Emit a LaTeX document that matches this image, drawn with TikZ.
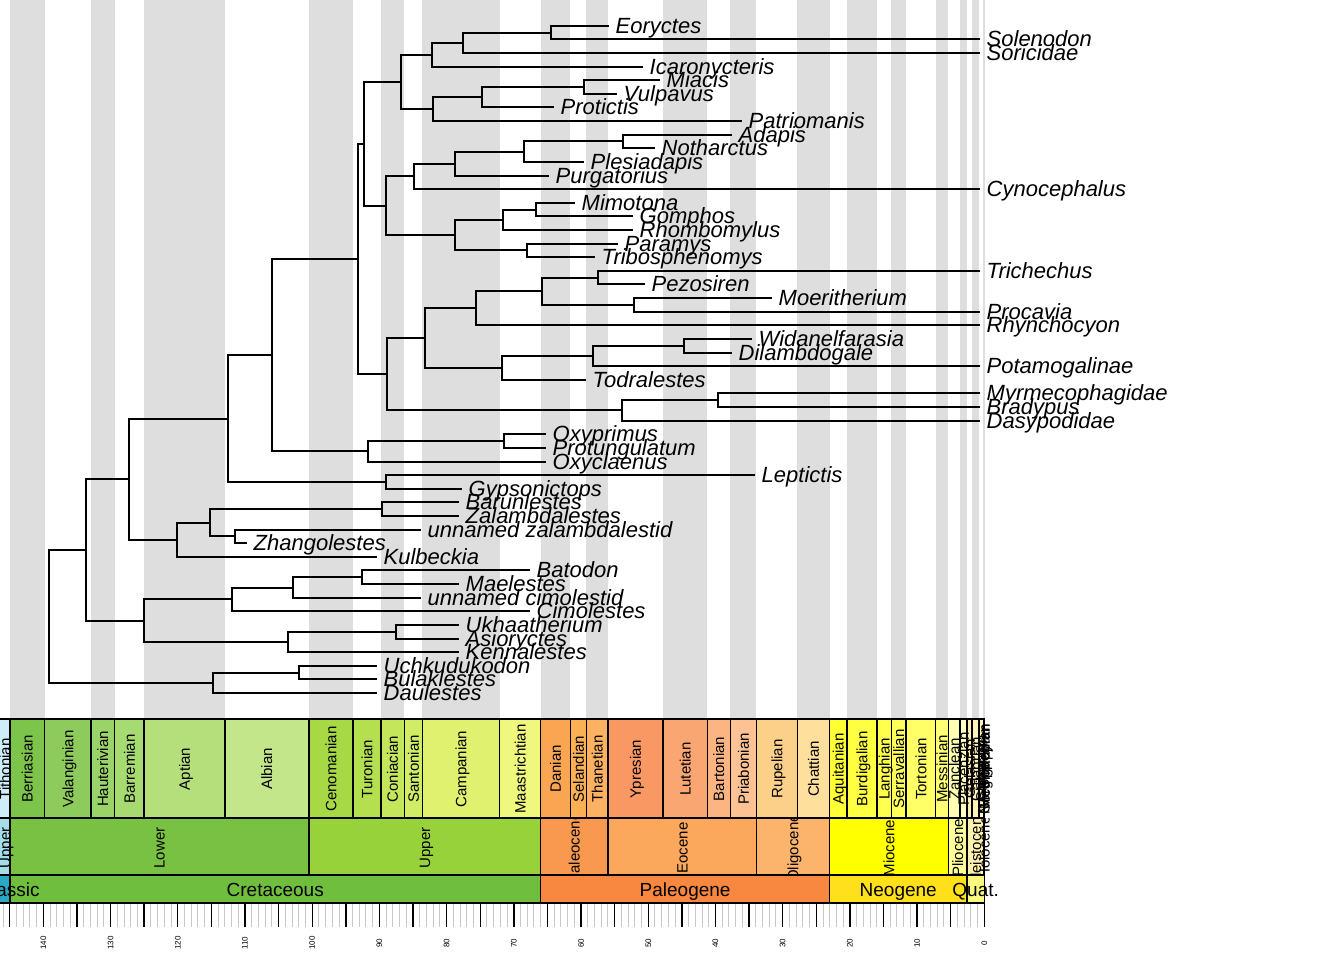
\documentclass[tikz,border=0pt]{standalone}
\usepackage{fontspec}
\setmainfont{Liberation Sans}
\definecolor{bandgray}{HTML}{DEDEDE}
\definecolor{minorgray}{HTML}{C8C8C8}
\begin{document}
\begin{tikzpicture}[x=1pt,y=-1pt,
  tree/.style={line width=1.8pt, black},
  tiplab/.style={anchor=base west, inner sep=0pt, font=\fontsize{22}{22}\selectfont\itshape},
  stagelab/.style={rotate=90, anchor=base, inner sep=0pt, font=\fontsize{15}{15}\selectfont},
  perlab/.style={anchor=base, inner sep=0pt, font=\fontsize{19}{19}\selectfont},
  ticklab/.style={rotate=90, anchor=center, inner sep=0pt, font=\fontsize{8}{8}\selectfont},
  tsbox/.style={draw=black, line width=1.5pt},
  minortick/.style={draw=minorgray, line width=1pt},
  majortick/.style={draw=black, line width=1.4pt}]
\useasboundingbox (0,0) rectangle (1344,960);
\clip (0,0) rectangle (1344,960);
\fill[white] (0,0) rectangle (1344,960);

% background bands
\foreach \a/\b in {145/139.8, 132.9/129.4, 125/113, 100.5/93.9, 89.8/86.3, 83.6/72.1, 66/61.6, 59.2/56, 47.8/41.2, 37.8/33.9, 27.82/23.03, 20.44/15.97, 13.82/11.63, 7.246/5.333, 3.6/2.58, 1.8/0.774, 0.129/0.0117, 0.0082/0.0042}
  \fill[bandgray] ({984.3-6.721*\a},0) rectangle ({984.3-6.721*\b},719);

% stages
\def\stagelist{152.1/145.0/CDEEF7/Tithonian, 145.0/139.8/7DC44A/Berriasian, 139.8/132.9/8CCB5C/Valanginian, 132.9/129.4/9AD368/Hauterivian, 129.4/125.0/A8DA72/Barremian, 125.0/113.0/B4DF7A/Aptian, 113.0/100.5/C3E68A/Albian, 100.5/93.9/A6D943/Cenomanian, 93.9/89.8/B4DF4E/Turonian, 89.8/86.3/C4E65A/Coniacian, 86.3/83.6/D2EC66/Santonian, 83.6/72.1/E0F16F/Campanian, 72.1/66.0/EFF87C/Maastrichtian, 66.0/61.6/FAA552/Danian, 61.6/59.2/FCB056/Selandian, 59.2/56.0/FCB262/Thanetian, 56.0/47.8/F99862/Ypresian, 47.8/41.2/FAA673/Lutetian, 41.2/37.8/FCB482/Bartonian, 37.8/33.9/FCC293/Priabonian, 33.9/27.82/FDD08A/Rupelian, 27.82/23.03/FEDF9C/Chattian, 23.03/20.44/FFFF33/Aquitanian, 20.44/15.97/FFFF41/Burdigalian, 15.97/13.82/FFFF4D/Langhian, 13.82/11.63/FFFF59/Serravallian, 11.63/7.246/FFFF66/Tortonian, 7.246/5.333/FFFF73/Messinian, 5.333/3.6/FFFFB3/Zanclean, 3.6/2.58/FFFFBF/Piacenzian, 2.58/1.8/FFEDB3/Gelasian, 1.8/0.774/FFF2BA/Calabrian, 0.774/0.129/FFF2C7/Chibanian, 0.129/0.0117/FFF2D3/Upper, 0.0117/0.0082/FEECDB/Greenlandian, 0.0082/0.0042/FEEBD2/Northgrippian, 0.0042/0.0/FDEDEC/Meghalayan}
\foreach \a/\b/\c/\nm in \stagelist {
  \definecolor{tmpc}{HTML}{\c}
  \filldraw[fill=tmpc, tsbox] ({984.3-6.721*\a},719) rectangle ({984.3-6.721*\b},818);
}
\begin{scope}
  \clip (-50,719) rectangle (1344,818);
  \foreach \a/\b/\c/\nm in \stagelist
    \node[stagelab] (s\nm) at ({984.3-6.721*(min(\a,146.45)+\b)/2+5.4},769) {\nm};
\end{scope}

% epochs
\def\epochlist{163.5/145.0/A5DCEA/Upper, 145.0/100.5/79C143/Lower, 100.5/66.0/98D23A/Upper, 66.0/56.0/F9994F/Paleocene, 56.0/33.9/FBA75C/Eocene, 33.9/23.03/FCB46C/Oligocene, 23.03/5.333/FFFF00/Miocene, 5.333/2.58/FFFF99/Pliocene, 2.58/0.0117/FFF2AE/Pleistocene, 0.0117/0.0/FEF2E0/Holocene}
\foreach \a/\b/\c/\nm in \epochlist {
  \definecolor{tmpc}{HTML}{\c}
  \filldraw[fill=tmpc, tsbox] ({984.3-6.721*\a},818) rectangle ({984.3-6.721*\b},875);
}
\begin{scope}
  \clip (-50,818) rectangle (1344,875);
  \foreach \a/\b/\c/\nm [count=\k] in \epochlist
    \node[stagelab] (e\k) at ({984.3-6.721*(min(\a,146.45)+\b)/2+5.4},848) {\nm};
\end{scope}

% periods
\def\periodlist{201.3/145.0/2AA8C5/Jurassic, 145.0/66.0/6FBE3E/Cretaceous, 66.0/23.03/F8873F/Paleogene, 23.03/2.58/FFE01A/Neogene, 2.58/0.0/F9F97F/Quat.}
\foreach \a/\b/\c/\nm in \periodlist {
  \definecolor{tmpc}{HTML}{\c}
  \filldraw[fill=tmpc, tsbox] ({984.3-6.721*\a},875) rectangle ({984.3-6.721*\b},903);
}
\begin{scope}
  \clip (-50,875) rectangle (1344,903);
  \foreach \a/\b/\c/\nm [count=\k] in \periodlist
    \node[perlab] (p\k) at ({984.3-6.721*(min(\a,146.45)+\b)/2},896.5) {\nm};
\end{scope}

% ticks
\foreach \a in {0,...,146}
  \draw[minortick] ({984.3-6.721*\a},904) -- ++(0,23);
\foreach \a in {0,5,...,145}
  \draw[majortick] ({984.3-6.721*\a},904) -- ++(0,23);
\foreach \a in {0,10,...,140}
  \node[ticklab] (tk\a) at ({984.3-6.721*\a},943) {\a};

% tips (positions snapped to pixel edges)
\foreach \xe/\lab [count=\i from 0] in {609.3/Eoryctes, 980/Solenodon, 980/Soricidae, 642.7/Icaronycteris, 660/Miacis, 617.3/Vulpavus, 554/Protictis, 741.7/Patriomanis, 732.3/Adapis, 655/Notharctus, 584/Plesiadapis, 549.3/Purgatorius, 980/Cynocephalus, 575/Mimotona, 633.3/Gomphos, 633.3/Rhombomylus, 618.3/Paramys, 595/Tribosphenomys, 980/Trichechus, 645/Pezosiren, 771.7/Moeritherium, 980/Procavia, 980/Rhynchocyon, 752.3/Widanelfarasia, 732.3/Dilambdogale, 980/Potamogalinae, 586/Todralestes, 980/Myrmecophagidae, 980/Bradypus, 980/Dasypodidae, 545.7/Oxyprimus, 545.7/Protungulatum, 545.7/Oxyclaenus, 755/Leptictis, 461.7/Gypsonictops, 459.3/Barunlestes, 459.3/Zalambdalestes, 420.7/unnamed zalambdalestid, 246.7/Zhangolestes, 376.7/Kulbeckia, 530/Batodon, 459.3/Maelestes, 420.7/unnamed cimolestid, 530/Cimolestes, 459.3/Ukhaatherium, 459.3/Asioryctes, 459.3/Kennalestes, 376.7/Uchkudukodon, 376.7/Bulaklestes, 376.7/Daulestes} {
  \coordinate (t\i) at ({round(\xe)},{round(25.7+13.62*\i)});
  \node[tiplab] (l\i) at ([xshift=6.5pt,yshift=-7.4pt]t\i) {\lab};
}

% internal nodes: name / x / index / child1 / child2
\foreach \n/\x/\k/\c/\d in {nA/551/0.5/t0/t1, nB/462.7/1.25/nA/t2, nC/432.3/2.125/nB/t3, nD/584/4.5/t4/t5, nE/481.7/5.25/nD/t6, nF/433.3/6.125/nE/t7, nG/400.7/4.125/nC/nF, nH/623.3/8.5/t8/t9, nI/524/9.25/nH/t10, nJ/455/10.125/nI/t11, nK/414.3/11.0625/nJ/t12, nL/535.7/13.5/t13/t14, nM/503.3/14.25/nL/t15, nN/526.7/16.5/t16/t17, nO/455/15.375/nM/nN, nP/386/13.21875/nK/nO, nQ/364/8.671875/nG/nP, nR/597.7/18.5/t18/t19, nS/634.3/20.5/t20/t21, nT/542.3/19.5/nR/nS, nU/476/20.75/nT/t22, nV/684/23.5/t23/t24, nW/593.3/24.25/nV/t25, nX/502.3/25.125/nW/t26, nY/425/22.9375/nU/nX, nZa/717.7/27.5/t27/t28, nZb/621.7/28.25/nZa/t29, nZc/387.3/25.59375/nY/nZb, nZd/357.7/17.1328/nQ/nZc, na1/504/30.5/t30/t31, na2/368/31.25/na1/t32, na3/272/24.1914/nZd/na2, nb1/386/33.5/t33/t34, na4/227.7/28.8457/na3/nb1, nc1/382.3/35.5/t35/t36, nc2/235.3/37.5/t37/t38, nc3/210.3/36.5/nc1/nc2, nc4/176.7/37.75/nc3/t39, na5/129.3/33.2979/na4/nc4, nd1/361.7/40.5/t40/t41, nd2/293.3/41.25/nd1/t42, nd3/232/42.125/nd2/t43, ne1/395.7/44.5/t44/t45, ne2/287.7/45.25/ne1/t46, nd4/144.3/43.6875/nd3/ne2, na6/85.7/38.4927/na5/nd4, nf1/298.7/47.5/t47/t48, nf2/213.3/48.25/nf1/t49, nroot/49.3/43.3713/na6/nf2} {
  \coordinate (\n) at ({round(\x)},{round(25.7+13.62*\k)});
  \draw[tree] (\c) -| (\n) |- (\d);
}
\end{tikzpicture}
\end{document}
